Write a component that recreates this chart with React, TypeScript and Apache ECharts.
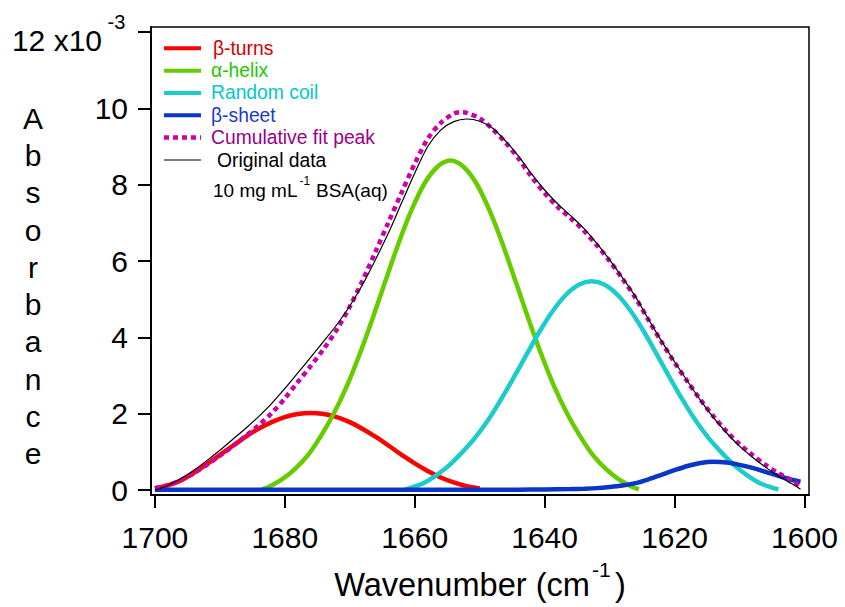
import React, { useEffect, useRef } from "react";
import * as echarts from "echarts";

const FONT = '"Liberation Sans", Arial, sans-serif';

const xTicks = [1600, 1620, 1640, 1660, 1680, 1700];
const yTicks = [0, 2, 4, 6, 8, 10, 12];
const yLabelTicks = [0, 2, 4, 6, 8, 10];

// β-turns
const turnsX = [1700, 1698, 1696, 1694, 1692, 1690, 1688, 1686, 1684, 1682, 1680, 1678, 1676, 1674, 1672, 1670, 1668, 1666, 1664, 1662, 1660, 1658, 1656, 1654, 1652, 1650];
const turnsY = [0.04, 0.12, 0.25, 0.45, 0.68, 0.92, 1.16, 1.4, 1.61, 1.78, 1.91, 1.99, 2.02, 1.99, 1.91, 1.78, 1.6, 1.39, 1.16, 0.92, 0.7, 0.5, 0.33, 0.2, 0.1, 0.04];

// α-helix
const helixX = [1683.5, 1682.5, 1680.5, 1678.5, 1676.5, 1674.5, 1672.5, 1670.5, 1668.5, 1666.5, 1664.5, 1662.5, 1660.5, 1658.5, 1656.5, 1654.5, 1652.5, 1650.5, 1648.5, 1646.5, 1644.5, 1642.5, 1640.5, 1638.5, 1636.5, 1634.5, 1632.5, 1630.5, 1628.5, 1626.5, 1625.5];
const helixY = [0.02, 0.08, 0.27, 0.54, 0.9, 1.4, 1.99, 2.7, 3.55, 4.49, 5.48, 6.46, 7.33, 8.03, 8.47, 8.63, 8.47, 8.03, 7.33, 6.46, 5.48, 4.49, 3.55, 2.7, 1.99, 1.4, 0.9, 0.54, 0.27, 0.08, 0.02];

// Random coil
const coilX = [1661.5, 1660.75, 1658.75, 1656.75, 1654.75, 1652.75, 1650.75, 1648.75, 1646.75, 1644.75, 1642.75, 1640.75, 1638.75, 1636.75, 1634.75, 1632.75, 1630.75, 1628.75, 1626.75, 1624.75, 1622.75, 1620.75, 1618.75, 1616.75, 1614.75, 1612.75, 1610.75, 1608.75, 1606.75, 1604.75, 1604];
const coilY = [0.02, 0.05, 0.17, 0.38, 0.64, 0.98, 1.36, 1.82, 2.36, 2.95, 3.56, 4.16, 4.69, 5.11, 5.38, 5.47, 5.38, 5.11, 4.69, 4.16, 3.56, 2.95, 2.36, 1.82, 1.36, 0.98, 0.64, 0.38, 0.17, 0.05, 0.02];

// β-sheet
const sheetX = [1700, 1690, 1680, 1670, 1660, 1650, 1644, 1640, 1636, 1634, 1632, 1630, 1628, 1626, 1624, 1622, 1620, 1618, 1616, 1614, 1612, 1610, 1608, 1606, 1604, 1602, 1600.6];
const sheetY = [0.01, 0.01, 0.01, 0.01, 0.01, 0.01, 0.01, 0.015, 0.025, 0.035, 0.05, 0.08, 0.12, 0.18, 0.28, 0.4, 0.52, 0.63, 0.71, 0.74, 0.72, 0.66, 0.58, 0.475, 0.37, 0.27, 0.22];

// Cumulative fit peak
const fitX = [1700, 1698, 1696, 1694, 1692, 1690, 1688, 1686, 1684, 1682, 1680, 1678, 1676, 1674, 1672, 1670, 1668, 1666, 1664, 1662, 1660, 1658, 1656, 1654, 1653, 1652, 1650, 1648, 1646, 1644, 1642, 1640, 1638, 1636, 1634, 1632, 1630, 1628, 1626, 1624, 1622, 1620, 1618, 1616, 1614, 1612, 1610, 1608, 1606, 1604, 1602, 1600.6];
const fitY = [0.05, 0.13, 0.26, 0.44, 0.66, 0.9, 1.15, 1.42, 1.7, 2.02, 2.4, 2.83, 3.25, 3.7, 4.2, 4.8, 5.5, 6.26, 7.03, 7.8, 8.55, 9.2, 9.62, 9.86, 9.9, 9.88, 9.74, 9.45, 9.1, 8.68, 8.2, 7.78, 7.42, 7.12, 6.8, 6.42, 6.0, 5.53, 5.03, 4.45, 3.88, 3.34, 2.84, 2.36, 1.93, 1.54, 1.2, 0.92, 0.66, 0.44, 0.25, 0.1];

// Original data
const origX = [1700, 1698, 1696, 1694, 1692, 1690, 1688, 1686, 1684, 1682, 1680, 1678, 1676, 1674, 1672, 1670, 1668, 1666, 1664, 1662, 1660, 1658, 1656, 1654, 1652, 1650, 1648, 1646, 1644, 1642, 1640, 1638, 1636, 1634, 1632, 1630, 1628, 1626, 1624, 1622, 1620, 1618, 1616, 1614, 1612, 1610, 1608, 1606, 1604, 1602, 1600.6];
const origY = [0.0, 0.12, 0.3, 0.52, 0.77, 1.04, 1.33, 1.62, 1.93, 2.27, 2.66, 3.07, 3.48, 3.9, 4.33, 4.82, 5.39, 6.05, 6.75, 7.53, 8.3, 9.0, 9.43, 9.65, 9.72, 9.66, 9.48, 9.14, 8.74, 8.28, 7.86, 7.5, 7.19, 6.86, 6.47, 6.03, 5.56, 5.06, 4.47, 3.9, 3.36, 2.85, 2.35, 1.9, 1.5, 1.15, 0.86, 0.6, 0.37, 0.17, 0.02];

const legendItems = [
  { name: "β-turns", line: "#ff0000", text: "#d40000", dash: false, width: 4, tx: 213 },
  { name: "α-helix", line: "#66cc00", text: "#22c800", dash: false, width: 4, tx: 211 },
  { name: "Random coil", line: "#1ccccc", text: "#00c8c8", dash: false, width: 4, tx: 211 },
  { name: "β-sheet", line: "#0a36c8", text: "#1a3acc", dash: false, width: 4, tx: 211 },
  { name: "Cumulative fit peak", line: "#cc00aa", text: "#990088", dash: true, width: 4.5, tx: 211 },
  { name: "Original data", line: "#000000", text: "#000000", dash: false, width: 1.2, tx: 217 },
];

function zip(xs: number[], ys: number[]) {
  return xs.map((x, i) => [x, ys[i]]);
}

function txt(text: string, x: number, y: number, fontSize: number, align = "left", fill = "#000") {
  return {
    type: "text",
    x,
    y,
    silent: true,
    style: { text, fill, fontSize, fontFamily: FONT, align, verticalAlign: "middle" },
  };
}

export default function App() {
  const ref = useRef<HTMLDivElement>(null);
  useEffect(() => {
    if (!ref.current) return;
    const chart = echarts.init(ref.current, null, { renderer: "svg" });

    const mk = (name: string, xs: number[], ys: number[], color: string, width: number, dashed = false) => ({
      type: "line",
      name,
      data: zip(xs, ys),
      showSymbol: false,
      symbol: "none",
      smooth: 0.3,
      lineStyle: { color, width, type: dashed ? [5, 4] : "solid", cap: "butt" },
      emphasis: { disabled: true },
    });

    const legendRowY = [48.3, 70.7, 92.9, 115.3, 137.5, 160];
    const legendGraphics: any[] = [];
    legendItems.forEach((it, i) => {
      legendGraphics.push({
        type: "line",
        shape: { x1: 164, y1: legendRowY[i], x2: 201, y2: legendRowY[i] },
        style: { stroke: it.line, lineWidth: it.width, lineDash: it.dash ? [5, 4] : null },
        silent: true,
      });
      legendGraphics.push(txt(it.name, it.tx, legendRowY[i], 19.3, "left", it.text));
    });

    const option: any = {
      animation: false,
      backgroundColor: "#ffffff",
      grid: {
        left: 151,
        right: 36,
        top: 27,
        bottom: 112,
        show: true,
        borderColor: "#000",
        borderWidth: 1.5,
        backgroundColor: "transparent",
      },
      xAxis: {
        type: "value",
        inverse: true,
        min: 1599.3,
        max: 1700.6,
        axisLine: { show: true, onZero: false, lineStyle: { color: "#000", width: 2 } },
        axisTick: { show: true, inside: false, length: 13, lineStyle: { color: "#000", width: 2 }, customValues: xTicks },
        axisLabel: {
          customValues: xTicks,
          fontSize: 30,
          color: "#000",
          margin: 27,
          fontFamily: FONT,
          formatter: (v: number) => String(Math.round(v)),
        },
        splitLine: { show: false },
      },
      yAxis: {
        type: "value",
        min: -0.13,
        max: 12.13,
        axisLine: { show: true, onZero: false, lineStyle: { color: "#000", width: 2 } },
        axisTick: { show: true, inside: false, length: 13, lineStyle: { color: "#000", width: 2 }, customValues: yTicks },
        axisLabel: {
          customValues: yLabelTicks,
          fontSize: 30,
          color: "#000",
          margin: 23,
          fontFamily: FONT,
          formatter: (v: number) => String(Math.round(v)),
        },
        splitLine: { show: false },
      },
      graphic: [
        txt("12 x10", 102, 40, 30, "right"),
        txt("-3", 107.5, 22, 20, "left"),
        {
          type: "text",
          x: 33,
          y: 286,
          silent: true,
          style: {
            text: "A\nb\ns\no\nr\nb\na\nn\nc\ne",
            align: "center",
            verticalAlign: "middle",
            fontSize: 30,
            lineHeight: 37.3,
            fontFamily: FONT,
            fill: "#000",
          },
        },
        txt("Wavenumber (cm", 590, 584, 32.6, "right"),
        txt("-1", 592, 569, 21, "left"),
        txt(")", 615, 584, 32.6, "left"),
        ...legendGraphics,
        txt("10 mg mL", 213, 190, 19, "left"),
        txt("-1", 299.5, 181, 12, "left"),
        txt("BSA(aq)", 316, 190, 19, "left"),
      ],
      series: [
        mk("β-turns", turnsX, turnsY, "#ff0000", 4.5),
        mk("α-helix", helixX, helixY, "#66cc00", 4.5),
        mk("Random coil", coilX, coilY, "#1ccccc", 4.5),
        mk("β-sheet", sheetX, sheetY, "#0a36c8", 4.5),
        mk("Cumulative fit peak", fitX, fitY, "#cc00aa", 4.5, true),
        mk("Original data", origX, origY, "#000000", 1.2),
      ],
    };
    chart.setOption(option);
    return () => chart.dispose();
  }, []);

  return (
    <div
      ref={ref}
      style={{ position: "fixed", left: 0, top: 0, width: 845, height: 607, background: "#fff" }}
    />
  );
}
